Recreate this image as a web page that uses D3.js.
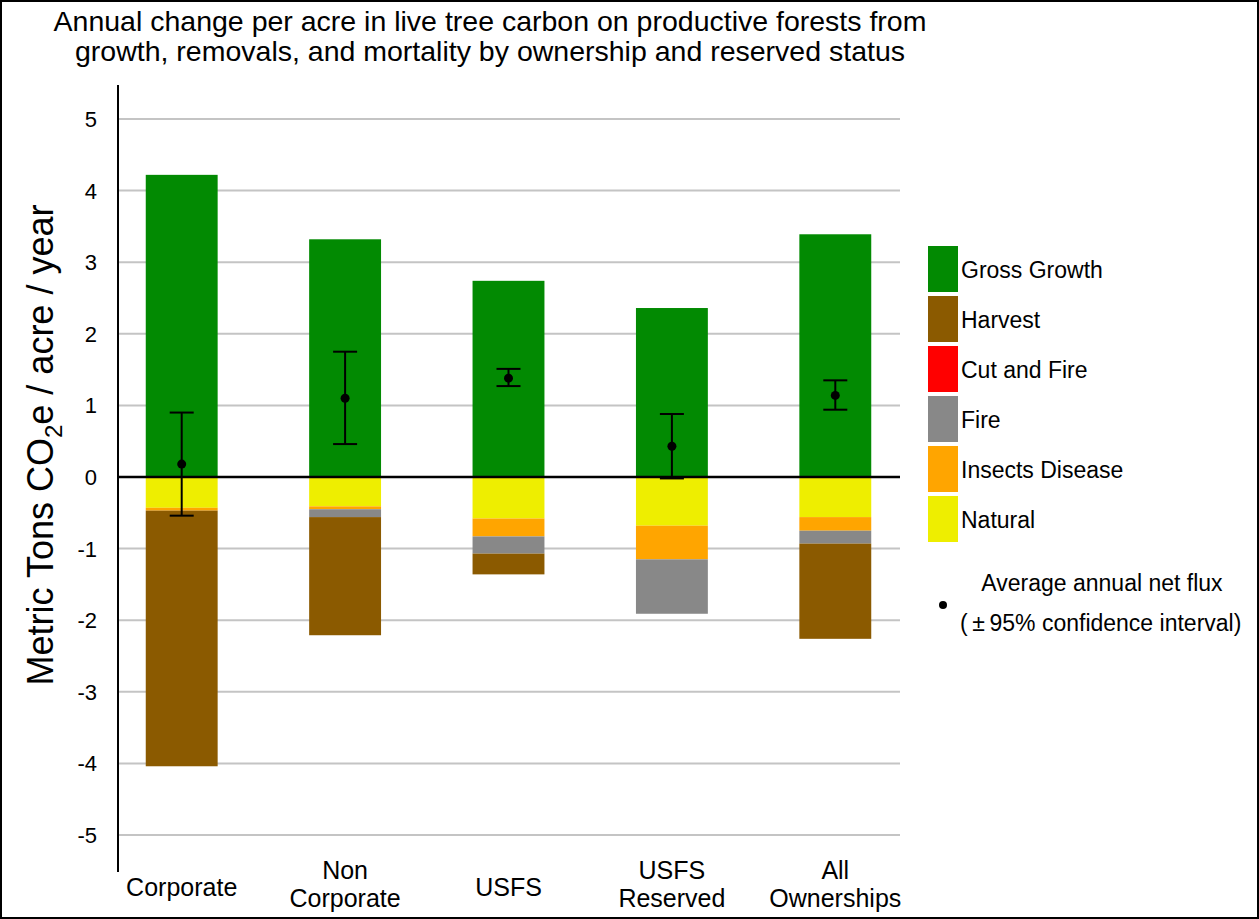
<!DOCTYPE html>
<html>
<head>
<meta charset="utf-8">
<script src="https://cdn.jsdelivr.net/npm/d3@7"></script>
<style>
  html, body { margin: 0; padding: 0; background: #fff; }
  svg { display: block; font-family: "Liberation Sans", Arial, sans-serif; }
</style>
</head>
<body>
<svg id="chart" width="1259" height="919"></svg>
<script>
// ---- data ----
const categories = ["Corporate", "Non Corporate", "USFS", "USFS Reserved", "All Ownerships"];
const categoryLines = [["Corporate"], ["Non", "Corporate"], ["USFS"], ["USFS", "Reserved"], ["All", "Ownerships"]];
const grossGrowth   = [4.22, 3.32, 2.74, 2.36, 3.39];
const natural       = [-0.43, -0.41, -0.58, -0.68, -0.56];
const insectsDisease= [-0.04, -0.04, -0.25, -0.47, -0.19];
const fire          = [0.00, -0.11, -0.24, -0.76, -0.18];
const cutAndFire    = [0.00, 0.00, 0.00, 0.00, 0.00];
const harvest       = [-3.57, -1.65, -0.29, 0.00, -1.33];
const netFlux       = [0.18, 1.10, 1.38, 0.43, 1.14];
const ciLow         = [-0.54, 0.46, 1.27, -0.02, 0.94];
const ciHigh        = [0.90, 1.75, 1.51, 0.88, 1.35];
const yTicks        = [5, 4, 3, 2, 1, 0, -1, -2, -3, -4, -5];
const legendNames   = ["Gross Growth", "Harvest", "Cut and Fire", "Fire", "Insects Disease", "Natural"];
const legendColors  = ["#028a02", "#8b5a00", "#ff0000", "#888888", "#ffa500", "#eeee00"];

// ---- build ----
const svg = d3.select("#chart");
const W = 1259, H = 919;

svg.append("rect").attr("x", 1).attr("y", 1).attr("width", W - 2).attr("height", H - 2)
  .attr("fill", "#fff").attr("stroke", "#000").attr("stroke-width", 2);

const y = d3.scaleLinear().domain([-5, 5]).range([835, 119]);
const x = d3.scaleBand().domain(categories).range([100, 917]).paddingInner(0.56).paddingOuter(0.28);
const color = d3.scaleOrdinal().domain(legendNames).range(legendColors);

const plotL = 118, plotR = 900;

// gridlines
svg.append("g").selectAll("line").data(yTicks.filter(d => d !== 0)).join("line")
  .attr("x1", plotL).attr("x2", plotR)
  .attr("y1", d => y(d)).attr("y2", d => y(d))
  .attr("stroke", "#c4c4c4").attr("stroke-width", 2);

// stacked negatives
const negSeries = [
  ["Natural", natural], ["Insects Disease", insectsDisease], ["Fire", fire],
  ["Cut and Fire", cutAndFire], ["Harvest", harvest]
];
const rects = [];
categories.forEach((c, i) => {
  rects.push({cat: c, name: "Gross Growth", y0: 0, y1: grossGrowth[i]});
  let base = 0;
  negSeries.forEach(([name, arr]) => {
    const v = arr[i];
    rects.push({cat: c, name, y0: base, y1: base + v});
    base += v;
  });
});
svg.append("g").selectAll("rect").data(rects.filter(d => d.y0 !== d.y1)).join("rect")
  .attr("x", d => x(d.cat))
  .attr("width", x.bandwidth())
  .attr("y", d => y(Math.max(d.y0, d.y1)))
  .attr("height", d => Math.abs(y(d.y0) - y(d.y1)))
  .attr("fill", d => color(d.name));

// zero line
svg.append("line").attr("x1", plotL).attr("x2", plotR).attr("y1", y(0)).attr("y2", y(0))
  .attr("stroke", "#000").attr("stroke-width", 2.5);

// y axis line
svg.append("line").attr("x1", plotL).attr("x2", plotL).attr("y1", 85).attr("y2", 872)
  .attr("stroke", "#000").attr("stroke-width", 2);

// y tick labels
svg.append("g").selectAll("text").data(yTicks).join("text")
  .attr("x", 97).attr("y", d => y(d)).attr("dy", "0.36em")
  .attr("text-anchor", "end").attr("font-size", 22).text(d => d);

// error bars
const eb = svg.append("g");
categories.forEach((c, i) => {
  const cx = x(c) + x.bandwidth() / 2;
  eb.append("line").attr("x1", cx).attr("x2", cx).attr("y1", y(ciHigh[i])).attr("y2", y(ciLow[i]))
    .attr("stroke", "#000").attr("stroke-width", 2);
  [ciHigh[i], ciLow[i]].forEach(v => {
    eb.append("line").attr("x1", cx - 12).attr("x2", cx + 12).attr("y1", y(v)).attr("y2", y(v))
      .attr("stroke", "#000").attr("stroke-width", 2);
  });
  eb.append("circle").attr("cx", cx).attr("cy", y(netFlux[i])).attr("r", 4.5).attr("fill", "#000");
});

// x labels
const xl = svg.append("g");
categories.forEach((c, i) => {
  const cx = x(c) + x.bandwidth() / 2;
  const lines = categoryLines[i];
  const t = xl.append("text").attr("text-anchor", "middle").attr("font-size", 25);
  if (lines.length === 1) {
    t.append("tspan").attr("x", cx).attr("y", 896).text(lines[0]);
  } else {
    t.append("tspan").attr("x", cx).attr("y", 879).text(lines[0]);
    t.append("tspan").attr("x", cx).attr("y", 907).text(lines[1]);
  }
});

// title
const titleLines = ["Annual change per acre in live tree carbon on productive forests from",
                    "growth, removals, and mortality by ownership and reserved status"];
svg.append("g").selectAll("text").data(titleLines).join("text")
  .attr("text-anchor", "middle").attr("font-size", 28.5)
  .attr("x", 490).attr("y", (d, i) => 31 + i * 30).text(d => d);

// y axis title
const yt = svg.append("text").attr("transform", "translate(53,445) rotate(-90)")
  .attr("text-anchor", "middle").attr("font-size", 36);
yt.append("tspan").text("Metric Tons CO");
yt.append("tspan").attr("font-size", 24).attr("dy", 9).text("2");
yt.append("tspan").attr("dy", -9).text("e / acre / year");

// legend
const lg = svg.append("g");
legendNames.forEach((n, i) => {
  const top = 246 + i * 50;
  lg.append("rect").attr("x", 928).attr("y", top).attr("width", 30).attr("height", 46).attr("fill", legendColors[i]);
  lg.append("text").attr("x", 961).attr("y", top + 32).attr("font-size", 23).text(n);
});
lg.append("circle").attr("cx", 943).attr("cy", 605).attr("r", 4).attr("fill", "#000");
lg.append("text").attr("x", 1102).attr("y", 591).attr("text-anchor", "middle").attr("font-size", 23).text("Average annual net flux");
lg.append("text").attr("x", 960).attr("y", 631).attr("font-size", 23).text("(\u2009\u00b1\u200995% confidence interval)");
</script>
</body>
</html>
